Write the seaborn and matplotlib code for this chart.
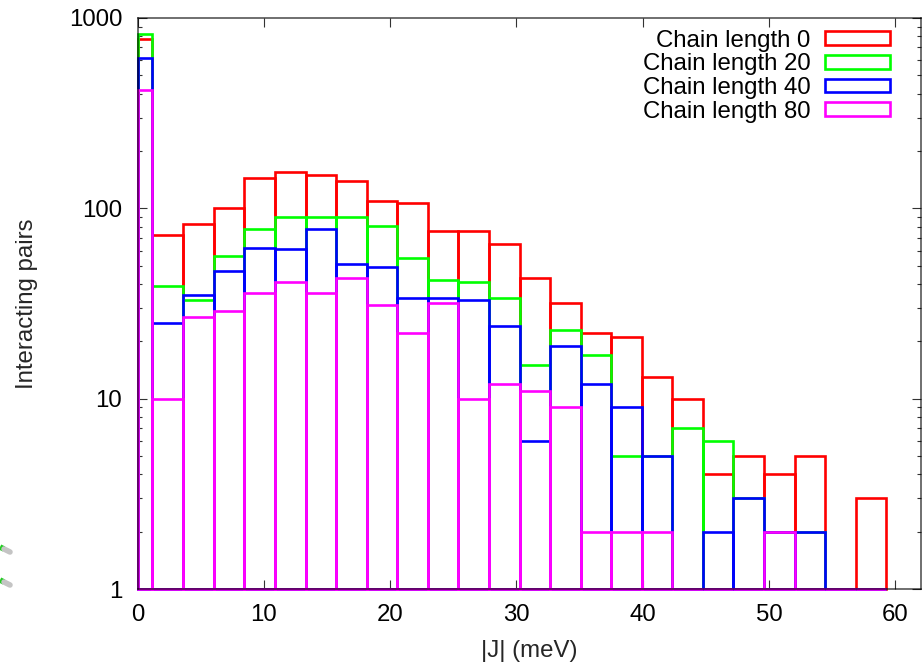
import numpy as np
import matplotlib
matplotlib.use("Agg")
import matplotlib.pyplot as plt
from matplotlib.lines import Line2D
from matplotlib.patches import Patch
from matplotlib.ticker import FixedLocator, FixedFormatter, LogLocator, NullFormatter
import seaborn as sns

bin_edges = [0, 1.17, 3.63, 6.05, 8.47, 10.89, 13.31, 15.73, 18.15, 20.57, 22.99, 25.41, 27.83,
             30.25, 32.67, 35.09, 37.51, 39.93, 42.35, 44.77, 47.19, 49.61, 52.03, 54.45, 56.87, 59.29]
chain_0 = [780, 72, 83, 100, 145, 155, 150, 140, 109, 107, 76, 76, 65, 43, 32, 22, 21, 13, 10, 4, 5, 4, 5, 0, 3]
chain_20 = [820, 39, 33, 56, 78, 90, 90, 90, 81, 55, 42, 41, 34, 15, 23, 17, 5, 5, 7, 6, 3, 2, 2, 0, 0]
chain_40 = [620, 25, 35, 47, 62, 61, 78, 51, 49, 34, 34, 33, 24, 6, 19, 12, 9, 5, 0, 2, 3, 2, 2, 0, 0]
chain_80 = [420, 10, 27, 29, 36, 41, 36, 43, 31, 22, 32, 10, 12, 11, 9, 2, 2, 2, 0, 0, 0, 2, 0, 0, 0]
series_labels = ["Chain length 0", "Chain length 20", "Chain length 40", "Chain length 80"]
series_colors = ["#ff0000", "#00ff00", "#0000ff", "#ff00ff"]
x_ticks = [0, 10, 20, 30, 40, 50, 60]
y_ticks = [1, 10, 100, 1000]

sns.set_theme(style="ticks")
plt.rcParams["font.family"] = ["Liberation Sans", "DejaVu Sans"]

fs = 17.3
lw = 1.9
W, H = 922, 663

fig = plt.figure(figsize=(W / 100, H / 100), dpi=100, facecolor="white")
ax = fig.add_axes([137.5 / W, 1 - 589 / H, (920.5 - 137.5) / W, (589 - 18) / H])
ax.set_yscale("log")

mids = [(a + b) / 2 for a, b in zip(bin_edges[:-1], bin_edges[1:])]
for vals, col in zip([chain_0, chain_20, chain_40, chain_80], series_colors):
    n_before = len(ax.patches)
    sns.histplot(x=mids, weights=vals, bins=bin_edges, element="bars", fill=False,
                 color=col, linewidth=lw, ax=ax)
    # boxes start at the bottom of the log axis, not at zero
    for p in ax.patches[n_before:]:
        h = p.get_height()
        p.set_y(1)
        p.set_height(max(h - 1, 0))
        p.set_clip_on(False)
        p.set_joinstyle("miter")

ax.set_xlim(0, 62)
ax.set_ylim(1, 1000)
ax.set_xlabel("|J| (meV)", fontsize=fs, labelpad=10)
ax.set_ylabel("Interacting pairs", fontsize=fs, labelpad=22)

ax.xaxis.set_major_locator(FixedLocator(x_ticks))
ax.xaxis.set_major_formatter(FixedFormatter([str(t) for t in x_ticks]))
ax.xaxis.set_minor_locator(FixedLocator([]))
ax.yaxis.set_major_locator(FixedLocator(y_ticks))
ax.yaxis.set_major_formatter(FixedFormatter([str(t) for t in y_ticks]))
ax.yaxis.set_minor_locator(LogLocator(base=10, subs=np.arange(2, 10)))
ax.yaxis.set_minor_formatter(NullFormatter())
ax.tick_params(axis="both", which="major", direction="in", length=6.5, width=0.8, color="#333333",
               top=True, right=True, labelsize=fs, pad=11, labelcolor="black")
ax.tick_params(axis="both", which="minor", direction="in", length=3, width=0.8, color="#333333",
               top=True, right=True)

for s in ax.spines.values():
    s.set_visible(True)
    s.set_linewidth(1.1)
    s.set_edgecolor((0, 0, 0, 0.72))
    s.set_zorder(5)

handles = [Patch(fill=False, edgecolor=c, linewidth=lw) for c in series_colors]
ax.legend(handles, series_labels, loc="upper right", frameon=False, markerfirst=False,
          fontsize=fs, labelcolor="black", handlelength=2.7, handleheight=0.5, handletextpad=0.62,
          labelspacing=0.07, borderaxespad=0, borderpad=0, bbox_to_anchor=(0.9615, 0.9795))

# bits of the molecule picture cut off at the left edge
for y0 in [547, 580]:
    fig.add_artist(Line2D([0, 4 / W], [1 - y0 / H, 1 - (y0 + 2) / H], color="#22cc22", lw=4,
                          solid_capstyle="butt"))
    fig.add_artist(Line2D([4 / W, 10 / W], [1 - (y0 + 2) / H, 1 - (y0 + 5) / H], color="#c4c4c4", lw=4,
                          solid_capstyle="round"))

fig.savefig("out.png", dpi=100, facecolor="white")
